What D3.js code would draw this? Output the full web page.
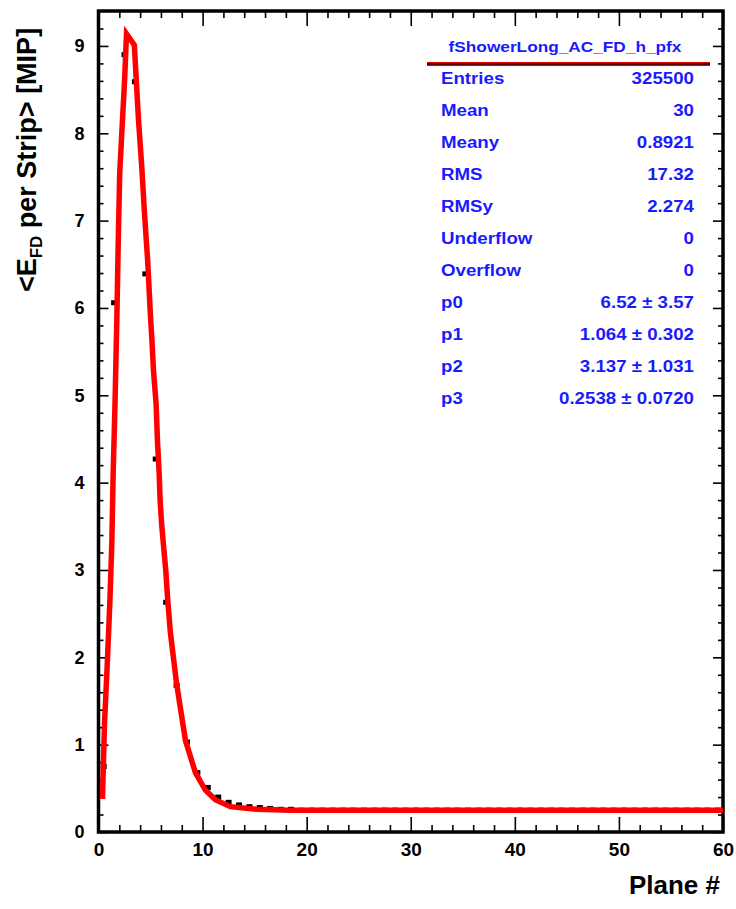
<!DOCTYPE html>
<html>
<head>
<meta charset="utf-8">
<script src="https://cdn.jsdelivr.net/npm/d3@7/dist/d3.min.js"></script>
<style>
  html, body { margin: 0; padding: 0; background: #fff; }
  svg { display: block; }
  text { font-family: "Liberation Sans", Arial, Helvetica, sans-serif; font-weight: bold; }
</style>
</head>
<body>
<div id="chart"></div>
<script>
// ---- data ----
const planes = [0.5, 1.5, 2.5, 3.5, 4.5, 5.5, 6.5, 7.5, 8.5, 9.5, 10.5, 11.5, 12.5, 13.5,
  14.5, 15.5, 16.5, 17.5, 18.5, 19.5, 20.5, 21.5, 22.5, 23.5, 24.5, 25.5, 26.5, 27.5, 28.5, 29.5,
  30.5, 31.5, 32.5, 33.5, 34.5, 35.5, 36.5, 37.5, 38.5, 39.5, 40.5, 41.5, 42.5, 43.5, 44.5,
  45.5, 46.5, 47.5, 48.5, 49.5, 50.5, 51.5, 52.5, 53.5, 54.5, 55.5, 56.5, 57.5, 58.5, 59.5];
const meanE = [0.75, 6.06, 8.90, 8.59, 6.39, 4.27, 2.63, 1.68, 1.03, 0.68, 0.51, 0.40, 0.34, 0.31,
  0.29, 0.28, 0.27, 0.26, 0.26, 0.25, 0.25, 0.25, 0.25, 0.25, 0.25, 0.25, 0.25, 0.25, 0.25, 0.25,
  0.25, 0.25, 0.25, 0.25, 0.25, 0.25, 0.25, 0.25, 0.25, 0.25, 0.25, 0.25, 0.25, 0.25, 0.25,
  0.25, 0.25, 0.25, 0.25, 0.25, 0.25, 0.25, 0.25, 0.25, 0.25, 0.25, 0.25, 0.25, 0.25, 0.25];

// fitted curve as drawn
const fitX = [0.38, 0.58, 0.83, 1.10, 1.28, 1.41, 1.58, 1.76, 1.92, 2.04, 2.37, 2.52, 2.69,
  3.45, 3.52, 3.84, 4.16, 4.41, 4.73, 4.96, 5.12, 5.28, 5.54, 5.66, 5.83, 5.92, 6.07, 6.27,
  6.46, 6.65, 6.91, 7.49, 8.35, 9.31, 10.27, 11.23, 12.67, 15.23, 18.4, 30, 45, 60];
const fitY = [0.38, 1.25, 1.89, 2.66, 3.31, 4.11, 4.87, 5.86, 6.90, 7.55, 8.30, 8.64, 9.14,
  9.01, 8.84, 8.16, 7.61, 7.10, 6.53, 5.98, 5.66, 5.29, 4.89, 4.49, 4.10, 3.80, 3.52, 3.25,
  3.00, 2.66, 2.28, 1.71, 1.05, 0.68, 0.48, 0.37, 0.29, 0.26, 0.25, 0.25, 0.25, 0.25];

const xMajor = [0, 10, 20, 30, 40, 50, 60];
const yMajor = [0, 1, 2, 3, 4, 5, 6, 7, 8, 9];

const statsTitle = "fShowerLong_AC_FD_h_pfx";
const statLabels = ["Entries", "Mean", "Meany", "RMS", "RMSy", "Underflow", "Overflow", "p0", "p1", "p2", "p3"];
const statValues = ["325500", "30", "0.8921", "17.32", "2.274", "0", "0",
  "6.52 \u00b1 3.57", "1.064 \u00b1 0.302", "3.137 \u00b1 1.031", "0.2538 \u00b1 0.0720"];

// ---- layout ----
const W = 736, H = 909;
const L = 98.5, R = 723, T = 11, B = 832;

const svg = d3.select("#chart").append("svg").attr("width", W).attr("height", H);

const x = d3.scaleLinear().domain([0, 60]).range([L, R]);
const y = d3.scaleLinear().domain([0, 9.4]).range([B, T]);

const xMinor = d3.range(0, 60.001, 2).filter(v => v % 10 !== 0);
const yMinor = d3.range(0, 9.4, 0.2).filter(v => Math.abs(v - Math.round(v)) > 1e-6);

// ticks (inward) on all four sides
function tickAxis(axis, transform) {
  const g = svg.append("g").attr("transform", transform).call(axis);
  g.select(".domain").remove();
  g.selectAll(".tick line").attr("stroke", "#000").attr("stroke-width", 1.6);
  return g;
}
tickAxis(d3.axisBottom(x).tickValues(xMajor).tickSize(-15).tickFormat(""), `translate(0,${B})`);
tickAxis(d3.axisBottom(x).tickValues(xMinor).tickSize(-7).tickFormat(""), `translate(0,${B})`);
tickAxis(d3.axisTop(x).tickValues(xMajor).tickSize(-15).tickFormat(""), `translate(0,${T})`);
tickAxis(d3.axisTop(x).tickValues(xMinor).tickSize(-7).tickFormat(""), `translate(0,${T})`);
tickAxis(d3.axisLeft(y).tickValues(yMajor).tickSize(-10).tickFormat(""), `translate(${L},0)`);
tickAxis(d3.axisLeft(y).tickValues(yMinor).tickSize(-5).tickFormat(""), `translate(${L},0)`);
tickAxis(d3.axisRight(y).tickValues(yMajor).tickSize(-10).tickFormat(""), `translate(${R},0)`);
tickAxis(d3.axisRight(y).tickValues(yMinor).tickSize(-5).tickFormat(""), `translate(${R},0)`);

// tick labels
const xl = svg.append("g").call(d3.axisBottom(x).tickValues(xMajor).tickSize(0).tickPadding(0).tickFormat(d3.format("d")))
  .attr("transform", `translate(0,${B + 10})`);
xl.select(".domain").remove();
xl.selectAll("text").attr("font-size", 19).attr("fill", "#000").attr("dy", "0.71em")
  .attr("font-family", "Liberation Sans, Arial, sans-serif").attr("font-weight", "bold");

const yl = svg.append("g").call(d3.axisLeft(y).tickValues(yMajor).tickSize(0).tickPadding(0).tickFormat(d3.format("d")))
  .attr("transform", `translate(${L - 14},0)`);
yl.select(".domain").remove();
yl.selectAll("text").attr("font-size", 18).attr("fill", "#000")
  .attr("font-family", "Liberation Sans, Arial, sans-serif").attr("font-weight", "bold");

// frame
svg.append("rect").attr("x", L).attr("y", T).attr("width", R - L).attr("height", B - T)
  .attr("fill", "none").attr("stroke", "#000").attr("stroke-width", 3.5);

// data markers
svg.append("g").selectAll("rect").data(planes.map((p, i) => [p, meanE[i]])).join("rect")
  .attr("x", d => x(d[0]) - 3).attr("y", d => y(d[1]) - 2.5)
  .attr("width", 6).attr("height", 5).attr("fill", "#000");

// fit curve
const line = d3.line().x(d => x(d[0])).y(d => y(d[1]));
svg.append("path").datum(fitX.map((v, i) => [v, fitY[i]]))
  .attr("d", line).attr("fill", "none").attr("stroke", "#ff0000")
  .attr("stroke-width", 5.5).attr("stroke-linejoin", "miter");

// axis titles
svg.append("text").attr("x", 720).attr("y", 894).attr("text-anchor", "end")
  .attr("font-size", 26).attr("fill", "#000").text("Plane #");

const yt = svg.append("text").attr("transform", "translate(36,160) rotate(-90)")
  .attr("text-anchor", "middle").attr("font-size", 27).attr("fill", "#000");
yt.append("tspan").text("<E");
yt.append("tspan").attr("font-size", 17).attr("dy", 6).text("FD");
yt.append("tspan").attr("dy", -6).text(" per Strip> [MIP]");

// stats box
const blue = "#1a1aff";
const sg = svg.append("g");
sg.append("text").attr("x", 565).attr("y", 52).attr("text-anchor", "middle")
  .attr("font-size", 15).attr("fill", blue)
  .attr("transform", "translate(565,0) scale(1.15,1) translate(-565,0)")
  .text(statsTitle);
sg.append("line").attr("x1", 427).attr("x2", 710).attr("y1", 64).attr("y2", 64)
  .attr("stroke", "#e00000").attr("stroke-width", 4);
sg.append("line").attr("x1", 427).attr("x2", 710).attr("y1", 64).attr("y2", 64)
  .attr("stroke", "#300000").attr("stroke-width", 1.4);

const rowY = d3.scaleLinear().domain([0, statLabels.length - 1]).range([84, 404]);
statLabels.forEach((lab, i) => {
  sg.append("text").attr("x", 441).attr("y", rowY(i)).attr("font-size", 17).attr("fill", blue)
    .attr("transform", `translate(441,0) scale(1.1,1) translate(-441,0)`).text(lab);
  sg.append("text").attr("x", 694).attr("y", rowY(i)).attr("text-anchor", "end")
    .attr("font-size", 17).attr("fill", blue)
    .attr("transform", `translate(694,0) scale(1.1,1) translate(-694,0)`).text(statValues[i]);
});
</script>
</body>
</html>
